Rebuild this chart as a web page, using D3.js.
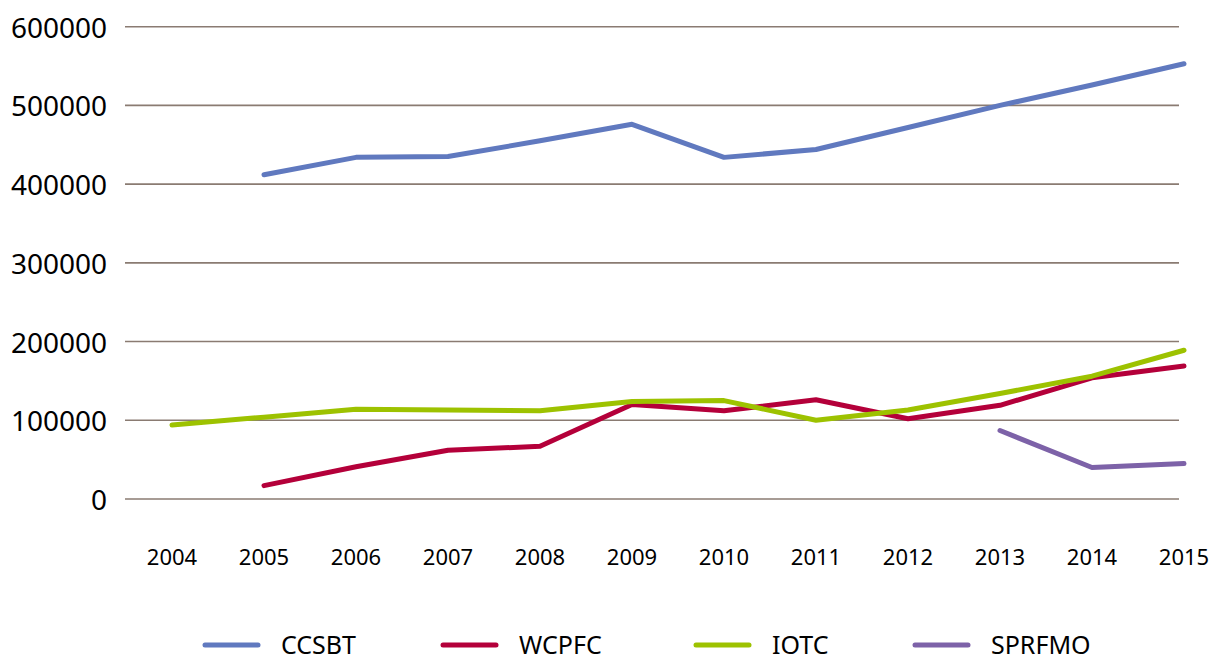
<!DOCTYPE html>
<html><head><meta charset="utf-8">
<script src="https://cdn.jsdelivr.net/npm/d3@7"></script>
<style>body{margin:0;background:#fff}svg{display:block}text{font-family:"Noto Sans",sans-serif;fill:#000}</style>
</head><body><svg id="c" width="1217" height="660"></svg>
<script>
const years = ["2004","2005","2006","2007","2008","2009","2010","2011","2012","2013","2014","2015"];
const yTicks = [0,100000,200000,300000,400000,500000,600000];
const seriesNames = ["CCSBT","WCPFC","IOTC","SPRFMO"];
const seriesColors = ["#6079BF","#B4003A","#9DC200","#7D62A8"];
const ccsbt  = [null,412000,434000,435000,455000,476000,434000,444000,472000,500000,526000,553000];
const wcpfc  = [null,17000,41000,62000,67000,120000,112000,126000,102000,119000,154000,169000];
const iotc   = [94000,104000,114000,113000,112000,124000,125000,100000,113000,134000,156000,189000];
const sprfmo = [null,null,null,null,null,null,null,null,null,87000,40000,45000];
const seriesValues = [ccsbt,wcpfc,iotc,sprfmo];

const svg = d3.select("#c");
const x = d3.scalePoint().domain(years).range([172,1184]);
const y = d3.scaleLinear().domain([0,600000]).range([499,26.7]);

// gridlines
const gx0 = 125, gx1 = 1179;
svg.append("g").selectAll("line").data(yTicks).join("line")
  .attr("x1",gx0).attr("x2",gx1).attr("y1",d=>y(d)).attr("y2",d=>y(d))
  .attr("stroke","#8A7B72").attr("stroke-width",1.6);

// y labels
svg.append("g").selectAll("text").data(yTicks).join("text")
  .attr("x",107).attr("y",d=>y(d)).attr("text-anchor","end").attr("dominant-baseline","central")
  .style("font-size","28px").text(d=>d);

// x labels
svg.append("g").selectAll("text").data(years).join("text")
  .attr("x",d=>x(d)).attr("y",556).attr("text-anchor","middle").attr("dominant-baseline","central")
  .style("font-size","22px").text(d=>d);

// lines
const line = d3.line().defined(d=>d.v!=null).x(d=>x(d.yr)).y(d=>y(d.v));
seriesValues.forEach((vals,i)=>{
  svg.append("path").datum(vals.map((v,j)=>({yr:years[j],v})))
    .attr("d",line).attr("fill","none").attr("stroke",seriesColors[i])
    .attr("stroke-width",5).attr("stroke-linecap","round").attr("stroke-linejoin","round");
});

// legend
const legX = [205,443,696,915];
const lg = svg.append("g").selectAll("g").data(seriesNames).join("g")
  .attr("transform",(d,i)=>`translate(${legX[i]},645)`);
lg.append("line").attr("x1",0).attr("x2",53).attr("y1",0).attr("y2",0)
  .attr("stroke",(d,i)=>seriesColors[i]).attr("stroke-width",5).attr("stroke-linecap","round");
lg.append("text").attr("x",76).attr("y",8.5)
  .style("font-size","25px").text(d=>d);
</script></body></html>
